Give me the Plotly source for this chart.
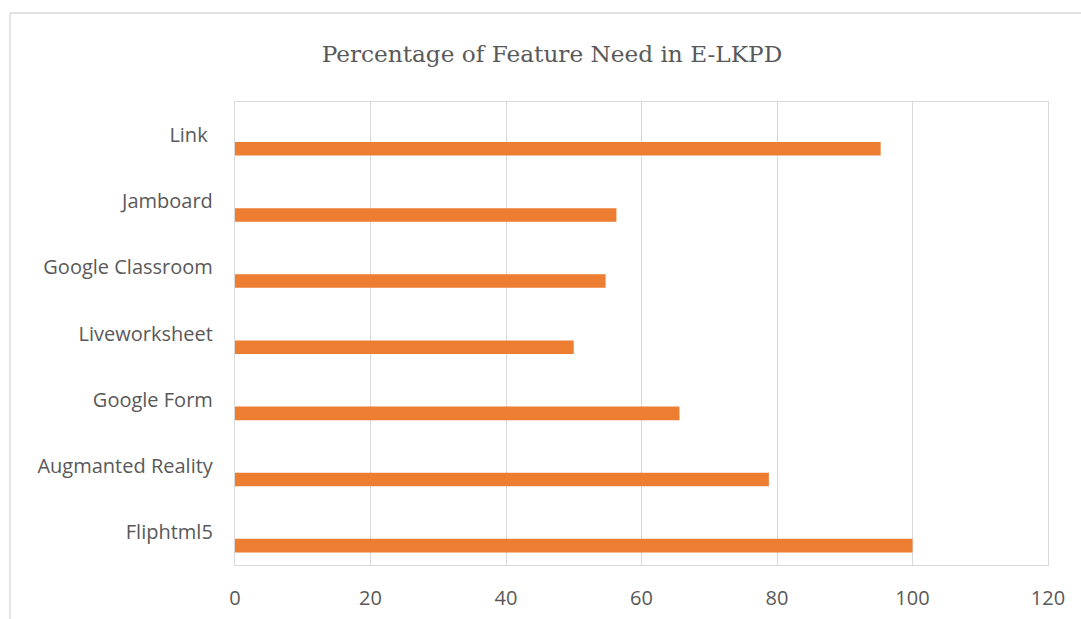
import plotly.graph_objects as go

categories = ["Fliphtml5", "Augmanted Reality", "Google Form", "Liveworksheet",
              "Google Classroom", "Jamboard", "Link "]
values = [100, 78.8, 65.6, 50.0, 54.7, 56.3, 95.3]
x_ticks = [0, 20, 40, 60, 80, 100, 120]

W, H = 1081, 619
L, R, T, B = 235, 1081 - 1048, 102, 619 - 565
pw, ph = W - L - R, H - T - B

def px(x):
    return (x - L) / pw

def py(y):
    return (H - B - y) / ph

fig = go.Figure()
fig.add_trace(go.Bar(
    y=categories, x=values, orientation="h",
    marker=dict(color="#ED7D31", line=dict(width=0)),
    width=0.205, offset=-0.31,
))

grey = "#595959"
fig.update_layout(
    width=W, height=H,
    margin=dict(l=L, r=R, t=T, b=B, autoexpand=False),
    paper_bgcolor="white", plot_bgcolor="white",
    showlegend=False,
    title=dict(text="Percentage of Feature Need in E-LKPD",
               font=dict(family="DejaVu Serif", size=23.2, color=grey),
               x=(322 + 782) / 2 / W, xanchor="center", y=1 - 54 / H, yanchor="middle"),
    xaxis=dict(range=[0, 120], tickvals=x_ticks, showgrid=True, gridcolor="#d9d9d9",
               gridwidth=1.3, zeroline=False, showline=True, linecolor="#d9d9d9",
               linewidth=1.3, mirror=True, ticks="", ticklabelstandoff=15, automargin=False,
               tickfont=dict(family="Open Sans", size=20, color=grey)),
    yaxis=dict(type="category", categoryorder="array", categoryarray=categories,
               range=[-0.5, 6.5], showgrid=False, showline=True, linecolor="#d9d9d9",
               linewidth=1.3, mirror=True, ticks="", ticklabelstandoff=17, automargin=False,
               tickfont=dict(family="Open Sans", size=20, color=grey)),
    shapes=[
        dict(type="line", xref="paper", yref="paper", x0=px(10), x1=px(1081),
             y0=py(13), y1=py(13), line=dict(color="#d9d9d9", width=1.3)),
        dict(type="line", xref="paper", yref="paper", x0=px(10), x1=px(10),
             y0=py(13), y1=py(619), line=dict(color="#d9d9d9", width=1.3)),
    ],
)

fig.write_html("out.html", config={"displayModeBar": False},
               post_script="document.body.style.margin='0';document.body.style.overflow='hidden';")
